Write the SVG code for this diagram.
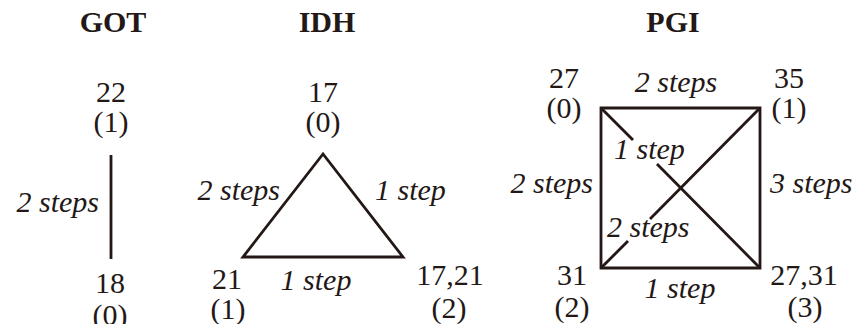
<svg xmlns="http://www.w3.org/2000/svg" width="859" height="324" viewBox="0 0 859 324">
<style>
text{font-family:"Liberation Serif","Times New Roman",serif;font-size:30px;fill:#231815;text-anchor:middle}
.t{font-weight:bold}
.e{font-style:italic}
.l{text-anchor:end}
.s{text-anchor:start}
line,polygon{stroke:#231815;stroke-width:2.8;fill:none;stroke-linecap:butt}
</style>
<rect width="859" height="324" fill="#fff"/>
<g id="titles">
<text class="t" x="113" y="32">GOT</text>
<text class="t" x="327" y="32">IDH</text>
<text class="t" x="673" y="32">PGI</text>
</g>
<g id="connectors">
<line x1="111" y1="155" x2="111" y2="259"/>
<polygon points="323,154 243,257 403,257" stroke-linejoin="miter"/>
<polygon points="601,108 760,108 760,268 601,268"/>
<line x1="601" y1="108" x2="633" y2="140"/>
<line x1="657" y1="164" x2="760" y2="268"/>
<line x1="601" y1="268" x2="628" y2="241"/>
<line x1="650" y1="219" x2="760" y2="108"/>
</g>
<g id="edge-labels">
<text class="e l" x="99" y="212">2 steps</text>
<text class="e l" x="280" y="200">2 steps</text>
<text class="e s" x="375" y="200">1 step</text>
<text class="e" x="316" y="290">1 step</text>
<text class="e" x="676" y="92">2 steps</text>
<text class="e l" x="593" y="193">2 steps</text>
<text class="e s" x="770" y="193">3 steps</text>
<text class="e s" x="614" y="159">1 step</text>
<text class="e s" x="607" y="237">2 steps</text>
<text class="e" x="680" y="298">1 step</text>
</g>
<g id="got-22"><text x="111" y="102">22</text><text x="111" y="132">(1)</text></g>
<g id="got-18"><text x="110" y="293">18</text><text x="110" y="325">(0)</text></g>
<g id="idh-17"><text x="323" y="102">17</text><text x="323" y="132">(0)</text></g>
<g id="idh-21"><text x="227" y="289">21</text><text x="228" y="319">(1)</text></g>
<g id="idh-17-21"><text x="450" y="285">17,21</text><text x="449" y="318">(2)</text></g>
<g id="pgi-27"><text x="564" y="88">27</text><text x="564" y="118">(0)</text></g>
<g id="pgi-35"><text x="789" y="88">35</text><text x="789" y="118">(1)</text></g>
<g id="pgi-31"><text x="572" y="285">31</text><text x="572" y="317">(2)</text></g>
<g id="pgi-27-31"><text x="804" y="285">27,31</text><text x="805" y="317">(3)</text></g>
</svg>
